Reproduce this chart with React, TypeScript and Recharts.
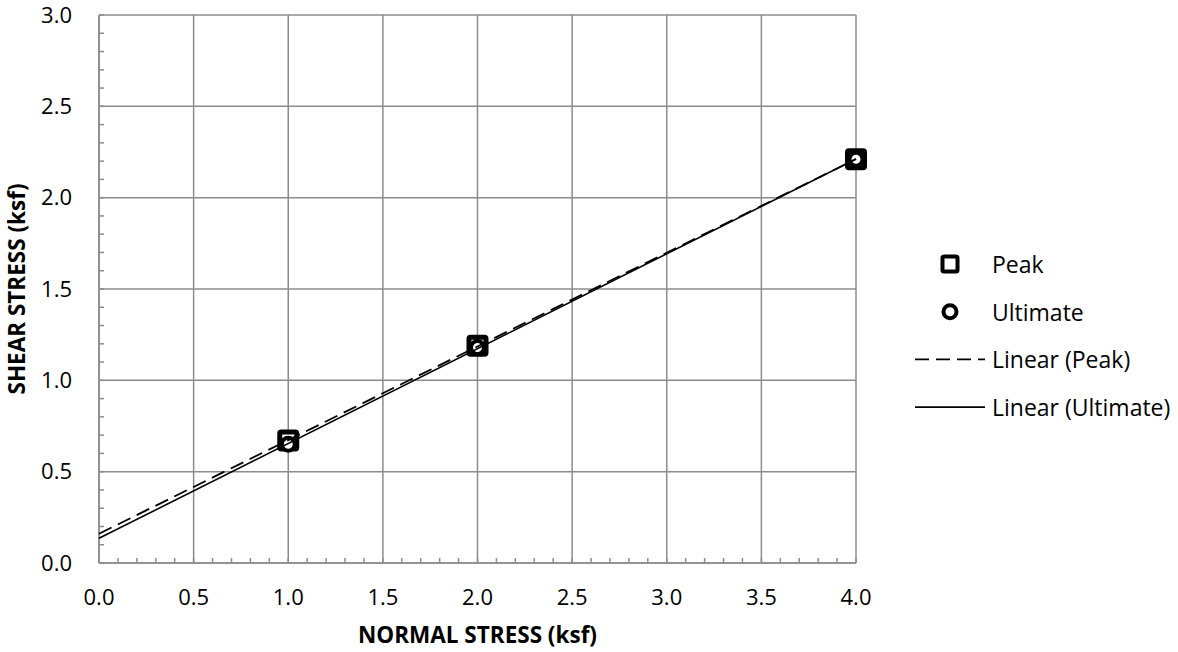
import React from 'react';
import { ScatterChart, Scatter, XAxis, YAxis, CartesianGrid } from 'recharts';

// direct shear test results
const normalStress = [1, 2, 4];
const peakShear = [0.67, 1.19, 2.21];
const ultimateShear = [0.65, 1.18, 2.21];

const xTicks = [0, 0.5, 1, 1.5, 2, 2.5, 3, 3.5, 4];
const yTicks = [0, 0.5, 1, 1.5, 2, 2.5, 3];
const trendRange = [0, 4];

// minor tick marks every 0.1
const xMinorTicks = Array.from({ length: 41 }, (_, i) => i / 10);
const yMinorTicks = Array.from({ length: 31 }, (_, i) => i / 10);

const GRID = '#8c8c8c';
const FONT = '"Open Sans", "Liberation Sans", sans-serif';

const linearFit = (xs: number[], ys: number[]) => {
  const n = xs.length;
  const mx = xs.reduce((a, b) => a + b, 0) / n;
  const my = ys.reduce((a, b) => a + b, 0) / n;
  let sxy = 0;
  let sxx = 0;
  xs.forEach((x, i) => {
    sxy += (x - mx) * (ys[i] - my);
    sxx += (x - mx) * (x - mx);
  });
  const slope = sxy / sxx;
  return { slope, intercept: my - slope * mx };
};

const toPoints = (ys: number[]) => normalStress.map((x, i) => ({ x, y: ys[i] }));

const trendPoints = (ys: number[]) => {
  const { slope, intercept } = linearFit(normalStress, ys);
  return trendRange.map((x) => ({ x, y: intercept + slope * x }));
};

const peakData = toPoints(peakShear);
const ultimateData = toPoints(ultimateShear);
const peakTrend = trendPoints(peakShear);
const ultimateTrend = trendPoints(ultimateShear);

const SquareMarker = (props: any) => (
  <rect
    x={props.cx - 8.5}
    y={props.cy - 8.5}
    width={17}
    height={17}
    rx={1.5}
    fill="#fff"
    stroke="#000"
    strokeWidth={5}
  />
);

const CircleMarker = (props: any) => (
  <circle cx={props.cx} cy={props.cy} r={6.5} fill="#fff" stroke="#000" strokeWidth={4} />
);

const Empty = () => <g />;

const XTitle = ({ viewBox }: any) => (
  <text
    x={viewBox.x + viewBox.width / 2}
    y={viewBox.y + 80}
    textAnchor="middle"
    fontFamily={FONT}
    fontSize={22.5}
    fontWeight="bold"
    fill="#000"
  >
    NORMAL STRESS (ksf)
  </text>
);

const YTitle = ({ viewBox }: any) => {
  const cx = viewBox.x + 16;
  const cy = viewBox.y + viewBox.height / 2;
  return (
    <text
      x={cx}
      y={cy}
      transform={`rotate(-90 ${cx} ${cy})`}
      textAnchor="middle"
      dominantBaseline="central"
      fontFamily={FONT}
      fontSize={22.5}
      fontWeight="bold"
      fill="#000"
    >
      SHEAR STRESS (ksf)
    </text>
  );
};

const legendItems = [
  { label: 'Peak', kind: 'square' },
  { label: 'Ultimate', kind: 'circle' },
  { label: 'Linear (Peak)', kind: 'dashed' },
  { label: 'Linear (Ultimate)', kind: 'solid' },
];

const ChartLegend = () => (
  <svg width={273} height={200} style={{ position: 'absolute', left: 905, top: 240 }}>
    {legendItems.map((item, i) => {
      const y = 24 + i * 47.7;
      return (
        <g key={item.label}>
          {item.kind === 'square' && (
            <rect x={37.5} y={y - 7.5} width={15} height={15} rx={1.5} fill="#fff" stroke="#000" strokeWidth={4} />
          )}
          {item.kind === 'circle' && (
            <circle cx={45} cy={y} r={6.5} fill="#fff" stroke="#000" strokeWidth={4} />
          )}
          {item.kind === 'dashed' && (
            <line x1={10} y1={y} x2={80} y2={y} stroke="#000" strokeWidth={1.8} strokeDasharray="14 7" />
          )}
          {item.kind === 'solid' && (
            <line x1={10} y1={y} x2={80} y2={y} stroke="#000" strokeWidth={1.6} />
          )}
          <text x={87} y={y} dominantBaseline="central" fontFamily={FONT} fontSize={23} fill="#000">
            {item.label}
          </text>
        </g>
      );
    })}
  </svg>
);

const tickStyle = { fontFamily: FONT, fontSize: 22, fill: '#000' };
const minorLine = { stroke: GRID, strokeWidth: 1.5 };

export default function App() {
  return (
    <div style={{ position: 'absolute', left: 0, top: 0, width: 1178, height: 652, background: '#fff' }}>
      <ScatterChart width={1178} height={652} margin={{ top: 15, right: 322, bottom: 0, left: 0 }}>
        <CartesianGrid stroke={GRID} strokeWidth={1.5} />
        <XAxis
          dataKey="x"
          type="number"
          domain={[0, 4]}
          ticks={xTicks}
          interval={0}
          tickFormatter={(v: number) => v.toFixed(1)}
          tickLine={false}
          tickMargin={20}
          axisLine={{ stroke: GRID, strokeWidth: 1.5 }}
          tick={tickStyle}
          height={89}
          label={{ content: XTitle }}
        />
        <XAxis
          xAxisId="minor"
          dataKey="x"
          type="number"
          domain={[0, 4]}
          ticks={xMinorTicks}
          interval={0}
          mirror
          tick={Empty}
          tickSize={5}
          tickLine={minorLine}
          axisLine={false}
          height={1}
        />
        <YAxis
          dataKey="y"
          type="number"
          domain={[0, 3]}
          ticks={yTicks}
          interval={0}
          tickFormatter={(v: number) => v.toFixed(1)}
          tickLine={false}
          tickMargin={21}
          axisLine={{ stroke: GRID, strokeWidth: 1.5 }}
          tick={tickStyle}
          width={99}
          label={{ content: YTitle }}
        />
        <YAxis
          yAxisId="minor"
          dataKey="y"
          type="number"
          domain={[0, 3]}
          ticks={yMinorTicks}
          interval={0}
          mirror
          tick={Empty}
          tickSize={5}
          tickLine={minorLine}
          axisLine={false}
          width={1}
        />
        <Scatter name="Peak" data={peakData} shape={SquareMarker} isAnimationActive={false} />
        <Scatter name="Ultimate" data={ultimateData} shape={CircleMarker} isAnimationActive={false} />
        <Scatter
          name="Linear (Peak)"
          xAxisId="minor"
          yAxisId="minor"
          data={peakTrend}
          shape={Empty}
          line={{ stroke: '#000', strokeWidth: 1.8, strokeDasharray: '14 7' }}
          isAnimationActive={false}
        />
        <Scatter
          name="Linear (Ultimate)"
          xAxisId="minor"
          yAxisId="minor"
          data={ultimateTrend}
          shape={Empty}
          line={{ stroke: '#000', strokeWidth: 1.6 }}
          isAnimationActive={false}
        />
      </ScatterChart>
      <ChartLegend />
    </div>
  );
}
